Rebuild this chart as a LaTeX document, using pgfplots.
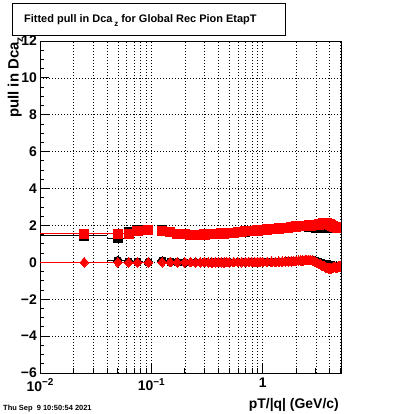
\documentclass[border=0pt]{standalone}
\usepackage{fontspec}
\setmainfont{Liberation Sans}
\usepackage{pgfplots}
\usepackage{pgfplotstable}
\pgfplotsset{compat=1.18}

\pgfplotstableread{
x ex y
0.025 0.015 1.55
0.05 0.01 1.55
0.0625 0.0025 1.52
0.075 0.01 1.71
0.094 0.01 1.75
0.125 0.0125 1.72
0.148 0.0125 1.66
0.171 0.0125 1.55
0.2 0.0125 1.52
0.225 0.0125 1.50
0.25 0.0125 1.49
0.275 0.0125 1.50
0.3 0.0125 1.51
0.325 0.0125 1.52
0.35 0.0125 1.52
0.375 0.0125 1.54
0.4 0.0125 1.55
0.425 0.0125 1.56
0.45 0.0125 1.56
0.475 0.0125 1.58
0.5 0.0125 1.60
0.55 0.025 1.61
0.6 0.025 1.63
0.65 0.025 1.66
0.7 0.025 1.68
0.75 0.025 1.69
0.8 0.025 1.71
0.85 0.025 1.72
0.9 0.025 1.73
0.95 0.025 1.74
1.0 0.025 1.76
1.1 0.05 1.78
1.2 0.05 1.80
1.3 0.05 1.82
1.4 0.05 1.83
1.5 0.05 1.86
1.6 0.05 1.87
1.7 0.05 1.88
1.8 0.05 1.90
1.9 0.05 1.91
2.0 0.05 1.94
2.1 0.05 1.95
2.2 0.05 1.97
2.3 0.05 1.96
2.4 0.05 1.98
2.5 0.05 1.99
2.6 0.05 2.00
2.7 0.05 1.99
2.8 0.05 2.01
2.9 0.05 2.02
3.0 0.05 2.02
3.1 0.05 2.04
3.2 0.05 2.05
3.3 0.05 2.07
3.4 0.05 2.08
3.5 0.05 2.10
3.6 0.05 2.11
3.7 0.05 2.12
3.8 0.05 2.10
3.9 0.05 2.07
4.0 0.05 2.05
4.1 0.05 2.01
4.2 0.05 1.97
4.3 0.05 1.95
4.4 0.05 1.93
4.5 0.05 1.92
4.6 0.05 1.90
4.7 0.05 1.89
4.8 0.05 1.88
4.9 0.05 1.88
5.0 0.05 1.87
}\redup

\pgfplotstableread{
x ex y
0.025 0.015 0.00
0.05 0.01 0.00
0.0625 0.0025 0.00
0.075 0.01 0.00
0.094 0.01 0.00
0.125 0.0125 0.00
0.148 0.0125 0.01
0.171 0.0125 0.00
0.2 0.0125 0.00
0.225 0.0125 0.01
0.25 0.0125 -0.01
0.275 0.0125 0.00
0.3 0.0125 0.01
0.325 0.0125 0.00
0.35 0.0125 -0.01
0.375 0.0125 0.00
0.4 0.0125 0.01
0.425 0.0125 0.00
0.45 0.0125 0.00
0.475 0.0125 0.01
0.5 0.0125 0.00
0.55 0.025 0.01
0.6 0.025 0.01
0.65 0.025 0.00
0.7 0.025 0.01
0.75 0.025 0.02
0.8 0.025 0.01
0.85 0.025 0.01
0.9 0.025 0.02
0.95 0.025 0.02
1.0 0.025 0.02
1.1 0.05 0.02
1.2 0.05 0.03
1.3 0.05 0.02
1.4 0.05 0.03
1.5 0.05 0.04
1.6 0.05 0.05
1.7 0.05 0.05
1.8 0.05 0.06
1.9 0.05 0.07
2.0 0.05 0.08
2.1 0.05 0.09
2.2 0.05 0.10
2.3 0.05 0.11
2.4 0.05 0.12
2.5 0.05 0.12
2.6 0.05 0.13
2.7 0.05 0.12
2.8 0.05 0.10
2.9 0.05 0.06
3.0 0.05 0.02
3.1 0.05 -0.03
3.2 0.05 -0.08
3.3 0.05 -0.12
3.4 0.05 -0.16
3.5 0.05 -0.20
3.6 0.05 -0.23
3.7 0.05 -0.27
3.8 0.05 -0.30
3.9 0.05 -0.32
4.0 0.05 -0.33
4.1 0.05 -0.33
4.2 0.05 -0.30
4.3 0.05 -0.27
4.4 0.05 -0.25
4.5 0.05 -0.28
4.6 0.05 -0.30
4.7 0.05 -0.26
4.8 0.05 -0.23
4.9 0.05 -0.22
5.0 0.05 -0.24
}\redlow

\pgfplotstableread{
x ex y
0.025 0.015 1.44
0.05 0.01 1.31
0.0625 0.0025 1.62
0.075 0.01 1.78
0.094 0.01 1.76
0.125 0.0125 1.73
0.148 0.0125 1.65
0.171 0.0125 1.56
0.2 0.0125 1.52
0.25 0.0125 1.49
0.3 0.0125 1.50
0.35 0.0125 1.52
0.4 0.0125 1.54
0.45 0.0125 1.56
0.5 0.0125 1.58
0.6 0.025 1.62
0.7 0.025 1.67
0.8 0.025 1.70
0.9 0.025 1.72
1.0 0.025 1.75
1.2 0.05 1.79
1.4 0.05 1.82
1.6 0.05 1.86
1.8 0.05 1.89
2.0 0.05 1.93
2.2 0.05 1.95
2.4 0.05 1.95
2.6 0.05 1.94
2.8 0.05 1.92
2.9 0.05 1.90
3.0 0.05 1.88
3.1 0.05 1.87
3.2 0.05 1.86
3.3 0.05 1.85
3.4 0.05 1.86
3.5 0.05 1.88
3.6 0.05 1.90
3.7 0.05 1.92
3.8 0.05 1.90
3.9 0.05 1.88
4.0 0.05 1.87
4.2 0.05 1.88
4.4 0.05 1.90
4.6 0.05 1.89
4.8 0.05 1.88
5.0 0.05 1.87
}\blackup

\pgfplotstableread{
x ex y
0.05 0.01 0.10
0.0625 0.0025 0.03
0.075 0.01 0.02
0.094 0.01 0.00
0.125 0.0125 0.08
0.148 0.0125 0.03
0.171 0.0125 0.01
0.2 0.0125 0.00
0.25 0.0125 0.00
0.3 0.0125 0.01
0.35 0.0125 0.00
0.4 0.0125 0.01
0.45 0.0125 0.00
0.5 0.0125 0.01
0.6 0.025 0.01
0.7 0.025 0.01
0.8 0.025 0.01
0.9 0.025 0.02
1.0 0.025 0.02
1.2 0.05 0.03
1.4 0.05 0.03
1.6 0.05 0.05
1.8 0.05 0.06
2.0 0.05 0.08
2.2 0.05 0.10
2.4 0.05 0.11
2.6 0.05 0.12
2.8 0.05 0.12
2.9 0.05 0.10
3.0 0.05 0.08
3.1 0.05 0.05
3.2 0.05 0.02
3.3 0.05 -0.02
3.4 0.05 -0.05
3.5 0.05 -0.08
3.6 0.05 -0.10
3.7 0.05 -0.12
3.8 0.05 -0.14
3.9 0.05 -0.15
4.0 0.05 -0.15
4.1 0.05 -0.14
4.2 0.05 -0.16
4.4 0.05 -0.18
4.6 0.05 -0.20
4.8 0.05 -0.21
5.0 0.05 -0.22
}\blacklow

\begin{document}
\begin{tikzpicture}[x=1bp,y=1bp]
\path[use as bounding box] (0,0) rectangle (400,414);
\begin{axis}[
  at={(40bp,41bp)}, anchor=south west,
  scale only axis, width=301bp, height=332bp,
  xmode=log, xmin=0.01, xmax=5.05, ymin=-6, ymax=12,
  axis line style={line width=0.8bp},
  tick align=inside, xtick pos=left, ytick pos=left,
  major tick length=9bp, minor tick length=4.5bp,
  every tick/.style={black, line width=0.8bp},
  xtick={0.01,0.1,1},
  xticklabels={10\raisebox{0.42em}{\fontsize{10}{10}\selectfont −2},10\raisebox{0.42em}{\fontsize{10}{10}\selectfont −1},1},
  minor xtick={0.02,0.03,0.04,0.05,0.06,0.07,0.08,0.09,0.2,0.3,0.4,0.5,0.6,0.7,0.8,0.9,2,3,4,5},
  ytick={-6,-4,-2,0,2,4,6,8,10,12},
  yticklabels={−6,−4,−2,0,2,4,6,8,10,12},
  minor y tick num=3,
  xmajorgrids, xminorgrids, ymajorgrids,
  major grid style={black, line width=0.6bp, dash pattern=on 0.8bp off 2.2bp},
  minor grid style={black, line width=0.6bp, dash pattern=on 0.8bp off 2.2bp},
  tick label style={font=\bfseries\fontsize{14}{14}\selectfont},
  yticklabel style={inner sep=0pt, anchor=east, xshift=-3bp},
  xticklabel style={inner sep=0pt, anchor=north, yshift=-5bp},
  clip marker paths=true,
]
\addplot[black, only marks, mark=square*, mark size=4.5bp, mark options={line width=0pt},
  error bars/.cd, x dir=both, x explicit, error mark=none,
  error bar style={line width=1bp, black}]
  table[x=x, y=y, x error=ex] {\blackup};
\addplot[black, only marks, mark=*, mark size=4.2bp, mark options={line width=0pt},
  error bars/.cd, x dir=both, x explicit, error mark=none,
  error bar style={line width=1bp, black}]
  table[x=x, y=y, x error=ex] {\blacklow};
\addplot[red, only marks, mark=square*, mark size=4.6bp, mark options={line width=0pt},
  error bars/.cd, x dir=both, x explicit, error mark=none,
  error bar style={line width=1bp, red}]
  table[x=x, y=y, x error=ex] {\redup};
\addplot[red, only marks, mark=diamond*, mark size=4.8bp, mark options={line width=0pt, xscale=1.2},
  error bars/.cd, x dir=both, x explicit, error mark=none,
  error bar style={line width=1bp, red}]
  table[x=x, y=y, x error=ex] {\redlow};
\end{axis}
% title box
\draw[line width=0.8bp] (12,379) rectangle (285,411);
\node[anchor=base west, inner sep=0pt, font=\bfseries\fontsize{11}{11}\selectfont] at (24,391.5)
  {Fitted pull in Dca\,\raisebox{-0.35em}{\fontsize{8}{8}\selectfont z} for Global Rec Pion EtapT};
% y label
\node[anchor=base west, rotate=90, inner sep=0pt, font=\bfseries\fontsize{15}{15}\selectfont] at (18.5,296)
  {pull in Dca\raisebox{-0.3em}{\fontsize{10}{10}\selectfont z}};
% x label
\node[anchor=base east, inner sep=0pt, font=\bfseries\fontsize{14}{14}\selectfont] at (339,6)
  {pT/|q| (GeV/c)};
% date
\node[anchor=base west, inner sep=0pt, font=\bfseries\fontsize{7.5}{7.5}\selectfont] at (3,4)
  {Thu Sep \ 9 10:50:54 2021};
\end{tikzpicture}
\end{document}
